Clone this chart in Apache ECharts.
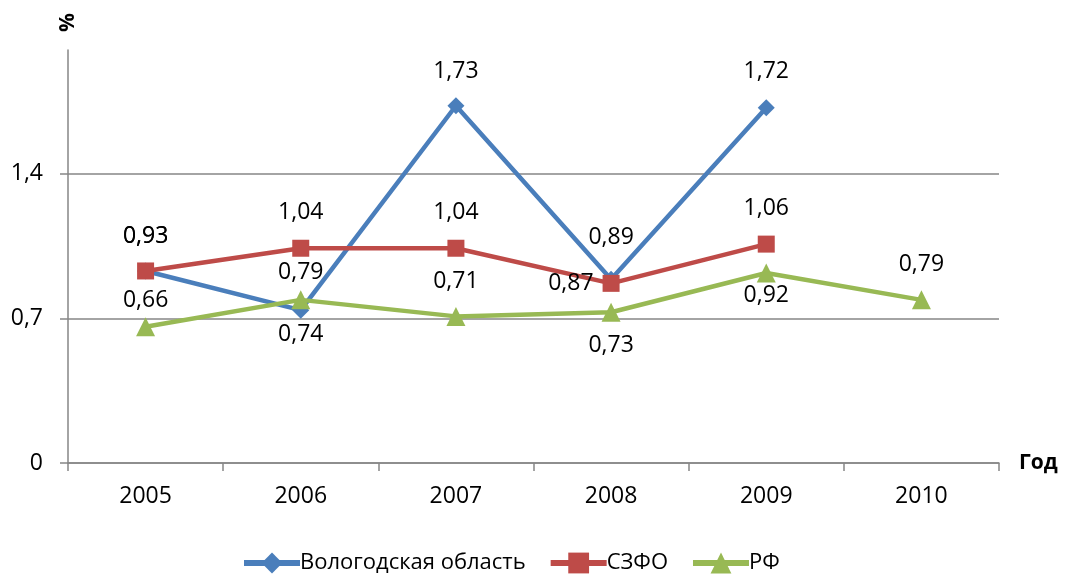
<!DOCTYPE html>
<html><head><meta charset="utf-8">
<script src="https://cdn.jsdelivr.net/npm/echarts@6/dist/echarts.min.js"></script>
<style>html,body{margin:0;padding:0;background:#fff}#c{width:1066px;height:576px}</style>
</head><body><div id="c"></div>
<script>
const years = ['2005','2006','2007','2008','2009','2010'];
const vologda = [0.93, 0.74, 1.73, 0.89, 1.72, null];
const szfo = [0.93, 1.04, 1.04, 0.87, 1.06, null];
const rf = [0.66, 0.79, 0.71, 0.73, 0.92, 0.79];
const seriesNames = ['Вологодская область', 'СЗФО', 'РФ'];
// label placement (style only)
const vologdaLabelPos = ['top','bottom','top','top','top','top'];
const vologdaLabelDist = [15, 4, 14, 22, 16, 14];
const szfoLabelPos = ['top','top','top','left','top','top'];
const szfoLabelDist = [15, 16, 16, 9, 16, 16];
const rfLabelPos = ['top','top','top','bottom','bottom','top'];
const rfLabelDist = [5, 6, 14, 12, 1, 14];

const FONT = '"Open Sans", "Noto Sans", sans-serif';
function fmt(v){ return v.toFixed(2).replace('.', ','); }
function build(vals, pos, dist){
  return vals.map((v,i)=> v==null ? null : ({value:v, label:{position:pos[i], distance:dist[i]}}));
}
const labelBase = {show:true, color:'#000', fontSize:23, fontFamily:FONT,
  formatter:p=>fmt(p.value)};

const chart = echarts.init(document.getElementById('c'));
chart.setOption({
  animation:false,
  grid:{left:68, right:67, top:50, bottom:113},
  legend:{bottom:-3, left:236, itemWidth:56, itemHeight:26, itemGap:22,
    textStyle:{fontSize:22, fontFamily:FONT, color:'#000', padding:[0,0,0,-5]},
    lineStyle:{width:6},
    data:seriesNames.map(n=>({name:n, lineStyle:{width:6}}))},
  xAxis:{type:'category', data:years, boundaryGap:true,
    name:'Год', nameLocation:'end', nameGap:20,
    nameTextStyle:{fontSize:21, fontWeight:'bold', fontFamily:FONT, color:'#000', verticalAlign:'middle'},
    axisLine:{lineStyle:{color:'#868686', width:1.5}},
    axisTick:{show:true, inside:false, length:8, lineStyle:{color:'#868686', width:1.5}},
    axisLabel:{fontSize:23, fontFamily:FONT, color:'#000', margin:22}},
  yAxis:{type:'value', min:0, max:2.0, interval:0.7,
    name:'%', nameLocation:'end', nameGap:18, nameRotate:90,
    nameTextStyle:{fontSize:21, fontWeight:'bold', fontFamily:FONT, color:'#000', align:'left', padding:[0,0,4,0]},
    axisLine:{show:true, lineStyle:{color:'#868686', width:1.5}},
    axisTick:{show:true, length:8, lineStyle:{color:'#868686', width:1.5}},
    splitLine:{show:true, showMaxLine:false, lineStyle:{color:'#868686', width:1.5}},
    axisLabel:{fontSize:23, fontFamily:FONT, color:'#000', margin:25, showMaxLabel:false,
      formatter:v=>String(v).replace('.', ',')}},
  series:[
    {name:seriesNames[0], type:'line', data:build(vologda, vologdaLabelPos, vologdaLabelDist),
     symbol:'diamond', symbolSize:17,
     itemStyle:{color:'#4A7EBB'}, lineStyle:{width:4.5, color:'#4A7EBB'}, label:labelBase, z:2},
    {name:seriesNames[1], type:'line', data:build(szfo, szfoLabelPos, szfoLabelDist),
     symbol:'rect', symbolSize:17,
     itemStyle:{color:'#BE4B48'}, lineStyle:{width:4.5, color:'#BE4B48'}, label:labelBase, z:3},
    {name:seriesNames[2], type:'line', data:build(rf, rfLabelPos, rfLabelDist),
     symbol:'triangle', symbolSize:19,
     itemStyle:{color:'#98B954'}, lineStyle:{width:4.5, color:'#98B954'}, label:labelBase, z:4}
  ]
});
</script></body></html>
